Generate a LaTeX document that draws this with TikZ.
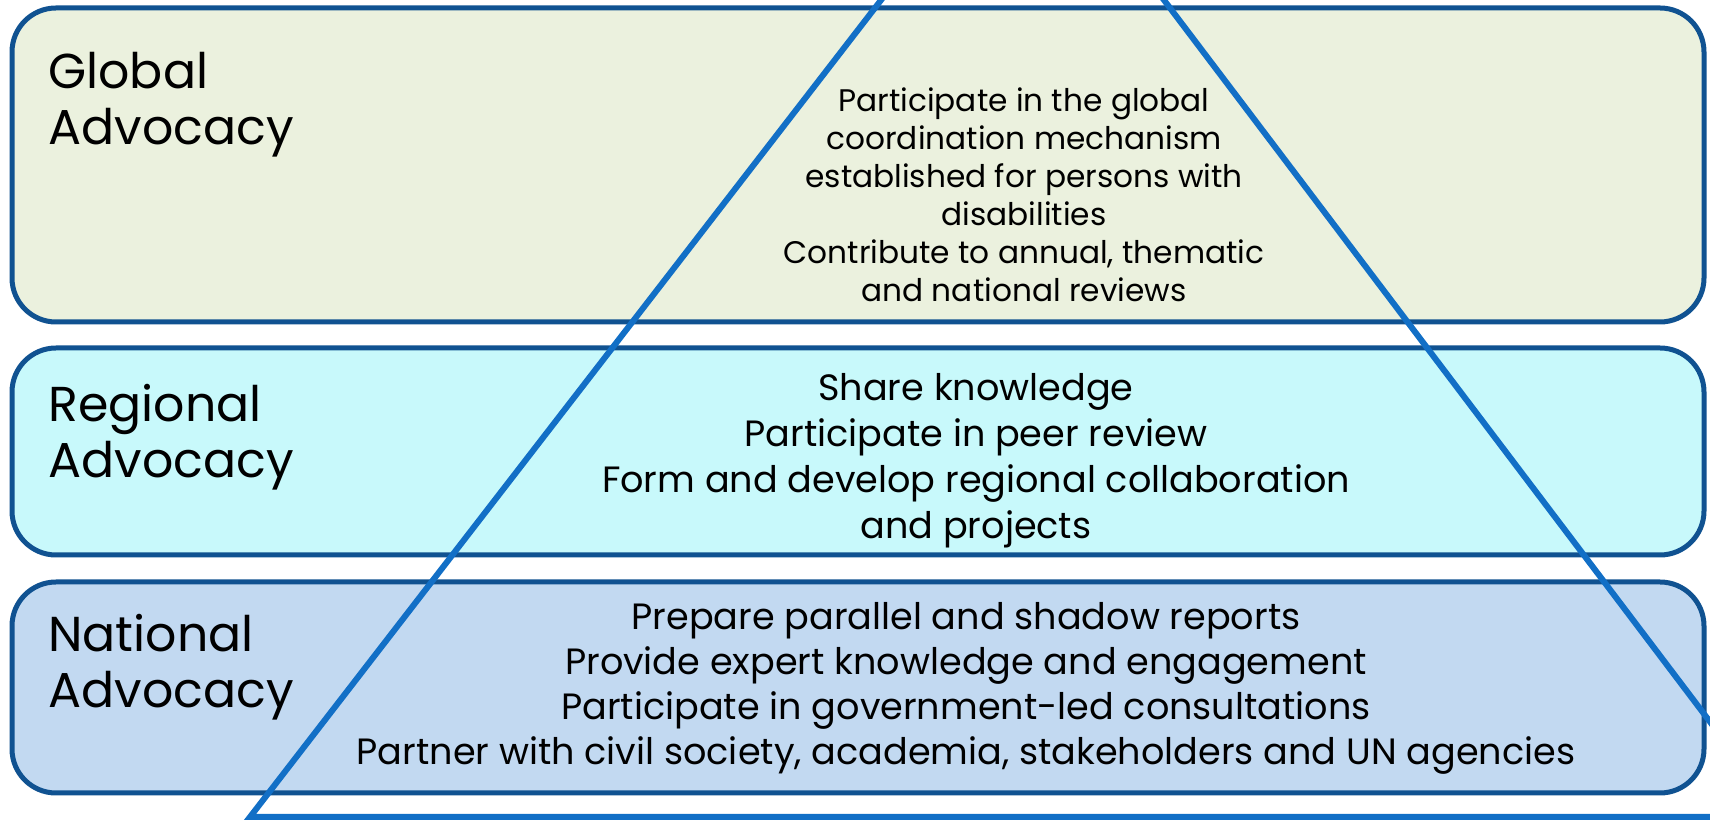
\documentclass[tikz,border=0pt]{standalone}
\usepackage{fontspec}
\setmainfont{Poppins}
\definecolor{boxline}{RGB}{16,82,145}
\definecolor{tri}{RGB}{18,111,198}
\definecolor{gfill}{RGB}{235,241,222}
\definecolor{rfill}{RGB}{200,249,251}
\definecolor{nfill}{RGB}{194,217,241}
\begin{document}
\begin{tikzpicture}[x=0.5pt,y=-0.5pt,
  band/.style={rectangle, draw=boxline, line width=2.5pt, rounded corners=22pt, minimum width=846pt, inner sep=0pt},
  lbl/.style={anchor=base west, inner sep=0pt, align=left, font=\fontsize{24.5}{28}\selectfont},
  gtxt/.style={inner sep=0pt, align=center, font=\fontsize{15.6}{19}\selectfont},
  rtxt/.style={inner sep=0pt, align=center, font=\fontsize{18.3}{23}\selectfont},
  ntxt/.style={inner sep=0pt, align=center, font=\fontsize{18.3}{22.5}\selectfont},
  triline/.style={draw=tri, line width=3pt, line join=miter}
]
\useasboundingbox (0,0) rectangle (1710,822);
\node[band, fill=gfill, minimum height=157pt] (gbox) at (858,165) {};
\node[band, fill=rfill, minimum height=103.5pt] (rbox) at (858,451.5) {};
\node[band, fill=nfill, minimum height=105.5pt] (nbox) at (858,687.5) {};
\node[lbl] (glbl) at (48,145) {Global\\Advocacy};
\node[lbl] (rlbl) at (48,478) {Regional\\Advocacy};
\node[lbl] (nlbl) at (48,708) {National\\Advocacy};
\node[gtxt] (gtext) at (1024,195) {Participate in the global\\coordination mechanism\\established for persons with\\disabilities\\Contribute to annual, thematic\\and national reviews};
\node[rtxt] (rtext) at (976,461) {Share knowledge\\Participate in peer review\\Form and develop regional collaboration\\and projects};
\node[ntxt] (ntext) at (966,688) {Prepare parallel and shadow reports\\Provide expert knowledge and engagement\\Participate in government-led consultations\\Partner with civil society, academia, stakeholders and UN agencies};
\coordinate (apex) at (1024,-185);
\coordinate (bl) at (250,817);
\coordinate (br) at (1782,817);
\clip (0,0) rectangle (1710,822);
\draw[triline] (apex) -- (bl) -- (br) -- cycle;
\end{tikzpicture}
\end{document}
